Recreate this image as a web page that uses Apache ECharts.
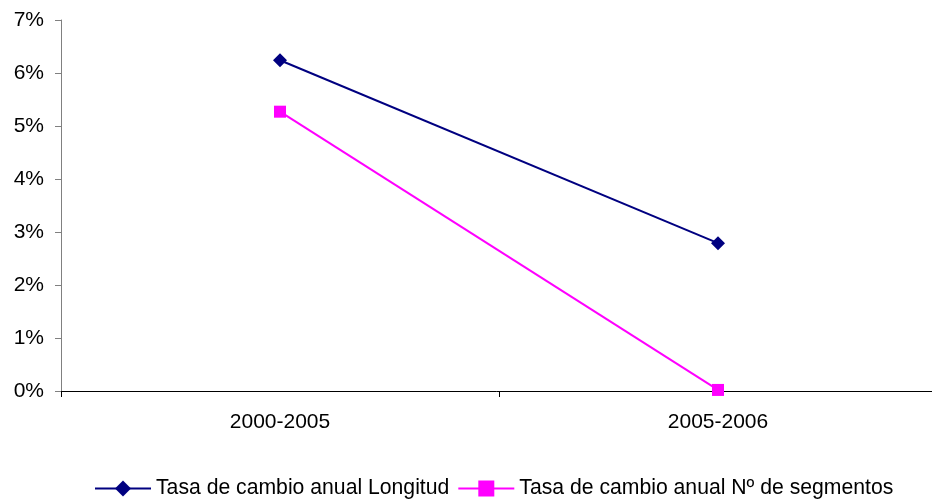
<!DOCTYPE html>
<html><head><meta charset="utf-8">
<script src="https://cdn.jsdelivr.net/npm/echarts@6/dist/echarts.min.js"></script>
<style>html,body{margin:0;padding:0;background:#fff}#c{width:932px;height:499px}</style>
</head><body><div id="c"></div>
<script>
const categories = ['2000-2005', '2005-2006'];
const longitud = [6.24, 2.79];
const segmentos = [5.27, 0.02];
const seriesNames = ['Tasa de cambio anual Longitud', 'Tasa de cambio anual Nº de segmentos'];

const FONT = 'Liberation Sans, Arial, sans-serif';
const chart = echarts.init(document.getElementById('c'));
chart.setOption({
  animation: false,
  textStyle: {fontFamily: FONT},
  grid: {left: 61, width: 876, top: 20, bottom: 108, outerBoundsMode: 'none', containLabel: false},
  legend: {
    top: 473, left: 89,
    itemWidth: 56, itemHeight: 20, itemGap: 8,
    textStyle: {fontSize: 21.2, color: '#000', fontFamily: FONT},
    data: seriesNames
  },
  xAxis: {
    type: 'category', data: categories, boundaryGap: true,
    axisLine: {lineStyle: {color: '#000', width: 1}},
    axisTick: {show: true, length: 6, lineStyle: {color: '#000'}},
    axisLabel: {fontSize: 21, color: '#000', margin: 21}
  },
  yAxis: {
    type: 'value', min: 0, max: 7, interval: 1,
    axisLine: {show: true, lineStyle: {color: '#808080', width: 1}},
    axisTick: {show: true, length: 6, lineStyle: {color: '#808080'}},
    splitLine: {show: false},
    axisLabel: {fontSize: 21, color: '#000', margin: 17, formatter: v => v + '%'}
  },
  series: [
    {name: seriesNames[0], type: 'line', data: longitud, symbol: 'diamond', symbolSize: 14,
     itemStyle: {color: '#000080'}, lineStyle: {color: '#000080', width: 2}},
    {name: seriesNames[1], type: 'line', data: segmentos, symbol: 'rect', symbolSize: 12,
     itemStyle: {color: '#FF00FF'}, lineStyle: {color: '#FF00FF', width: 2}}
  ]
});
</script></body></html>
